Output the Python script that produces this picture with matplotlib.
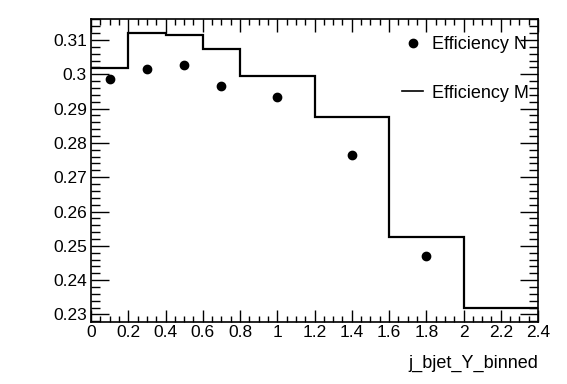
import matplotlib
matplotlib.use("Agg")
import matplotlib.pyplot as plt
import numpy as np
from matplotlib.ticker import MultipleLocator, FuncFormatter
from matplotlib.lines import Line2D

plt.rcParams['font.family'] = ['Liberation Sans', 'DejaVu Sans']

bin_edges = [0.0, 0.2, 0.4, 0.6, 0.8, 1.2, 1.6, 2.0, 2.4]
eff_m = [0.3019, 0.3120, 0.3115, 0.3074, 0.2994, 0.2875, 0.2525, 0.2318]
x_n = [0.1, 0.3, 0.5, 0.7, 1.0, 1.4, 1.8]
eff_n = [0.2985, 0.3015, 0.3026, 0.2966, 0.2934, 0.2765, 0.2471]

fig = plt.figure(figsize=(5.67, 3.84), dpi=100)
ax = fig.add_axes([91/567, 1-322/384, (538-91)/567, (322-19)/384])

ax.stairs(eff_m, bin_edges, color='black', linewidth=1.6, baseline=None)
ax.plot(x_n, eff_n, 'o', color='black', markersize=6)

ax.set_xlim(0, 2.4)
ax.set_ylim(0.2278, 0.3161)

ax.xaxis.set_major_locator(MultipleLocator(0.2))
ax.xaxis.set_minor_locator(MultipleLocator(0.05))
ax.yaxis.set_major_locator(MultipleLocator(0.01))
ax.yaxis.set_minor_locator(MultipleLocator(0.002))

def fmt(v, pos):
    s = f"{v:.2f}".rstrip('0').rstrip('.')
    return s
ax.xaxis.set_major_formatter(FuncFormatter(lambda v, p: f"{v:.1f}".rstrip('0').rstrip('.')))
ax.yaxis.set_major_formatter(FuncFormatter(fmt))

ax.tick_params(which='both', direction='in', top=True, right=True, labelsize=12.5, width=1)
ax.tick_params(axis='x', which='major', length=9, pad=2)
ax.tick_params(axis='x', which='minor', length=4.5)
ax.tick_params(axis='y', which='major', length=13, pad=3)
ax.tick_params(axis='y', which='minor', length=6.5)
for sp in ax.spines.values():
    sp.set_linewidth(1.2)

ax.set_xlabel('j_bjet_Y_binned', fontsize=13, ha='right', x=1.0, labelpad=11)

handles = [Line2D([], [], marker='o', linestyle='none', color='black', markersize=6),
           Line2D([], [], color='black', linewidth=1.2)]
leg = ax.legend(handles, ['Efficiency N', 'Efficiency M'], loc='upper left',
                bbox_to_anchor=((402-91)/447, (322-36)/303), frameon=False, fontsize=13,
                labelspacing=1.75, handlelength=1.17, handletextpad=0.5,
                borderaxespad=0, borderpad=0)

fig.savefig('out.png', dpi=100)
